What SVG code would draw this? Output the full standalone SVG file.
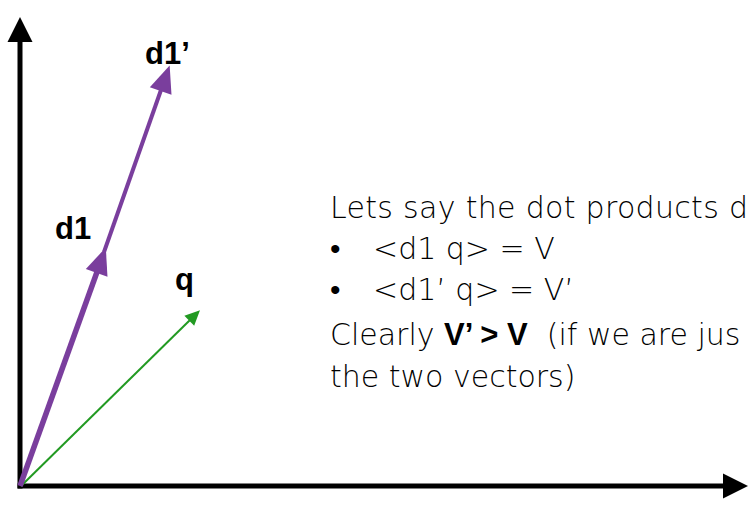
<svg xmlns="http://www.w3.org/2000/svg" width="751" height="508" viewBox="0 0 751 508">
<style>
.axis{stroke:#000;stroke-width:5;fill:none}
.vec-d{stroke:#7a3e9d;fill:none}
.vec-q{stroke:#229a22;stroke-width:2;fill:none}
.lbl{font-family:"Liberation Sans",Arial,sans-serif;font-weight:bold;font-size:31px;fill:#000}
.txt{font-family:"DejaVu Sans",sans-serif;font-weight:300;font-size:30px;fill:#000}
.b{font-family:"Liberation Sans",Arial,sans-serif;font-weight:bold;font-size:31px}
</style>
<defs>
<marker id="headK" markerUnits="userSpaceOnUse" markerWidth="30" markerHeight="30" refX="1" refY="12.5" orient="auto" overflow="visible">
<path d="M0,0 L25,12.5 L0,25 z" fill="#000"/>
</marker>
<marker id="headP" markerUnits="userSpaceOnUse" markerWidth="30" markerHeight="30" refX="1" refY="11.5" orient="auto" overflow="visible">
<path d="M0,0 L27,11.5 L0,23 z" fill="#7a3e9d"/>
</marker>
<marker id="headG" markerUnits="userSpaceOnUse" markerWidth="20" markerHeight="20" refX="1" refY="7" orient="auto" overflow="visible">
<path d="M0,0 L15,7 L0,14 z" fill="#229a22"/>
</marker>
</defs>
<g id="connectors">
<line id="y-axis" class="axis" x1="20" y1="488.5" x2="20" y2="41" marker-end="url(#headK)"/>
<line id="x-axis" class="axis" x1="17.5" y1="486" x2="724" y2="486" marker-end="url(#headK)"/>
<line id="vec-q" class="vec-q" x1="21" y1="486" x2="190" y2="320" marker-end="url(#headG)"/>
<line id="vec-d1" class="vec-d" stroke-width="5.5" x1="20" y1="486" x2="97" y2="272" marker-end="url(#headP)"/>
<line id="vec-d1p" class="vec-d" stroke-width="4" x1="104" y1="252" x2="161" y2="90" marker-end="url(#headP)"/>
</g>
<g id="label-d1p"><text class="lbl" x="145" y="64">d1’</text></g>
<g id="label-d1"><text class="lbl" x="55" y="239">d1</text></g>
<g id="label-q"><text class="lbl" x="175" y="290">q</text></g>
<g id="note">
<text class="txt" x="330" y="218" textLength="418" lengthAdjust="spacing">Lets say the dot products d</text>
<text class="txt" x="330" y="259">•</text>
<text class="txt" x="373" y="259">&lt;d1 q&gt; = V</text>
<text class="txt" x="330" y="300">•</text>
<text class="txt" x="373" y="300">&lt;d1’ q&gt; = V’</text>
<text class="txt" x="330" y="345">Clearly <tspan class="b">V’ &gt; V</tspan>&#160; (if we are jus</text>
<text class="txt" x="330" y="387">the two vectors)</text>
</g>
</svg>
